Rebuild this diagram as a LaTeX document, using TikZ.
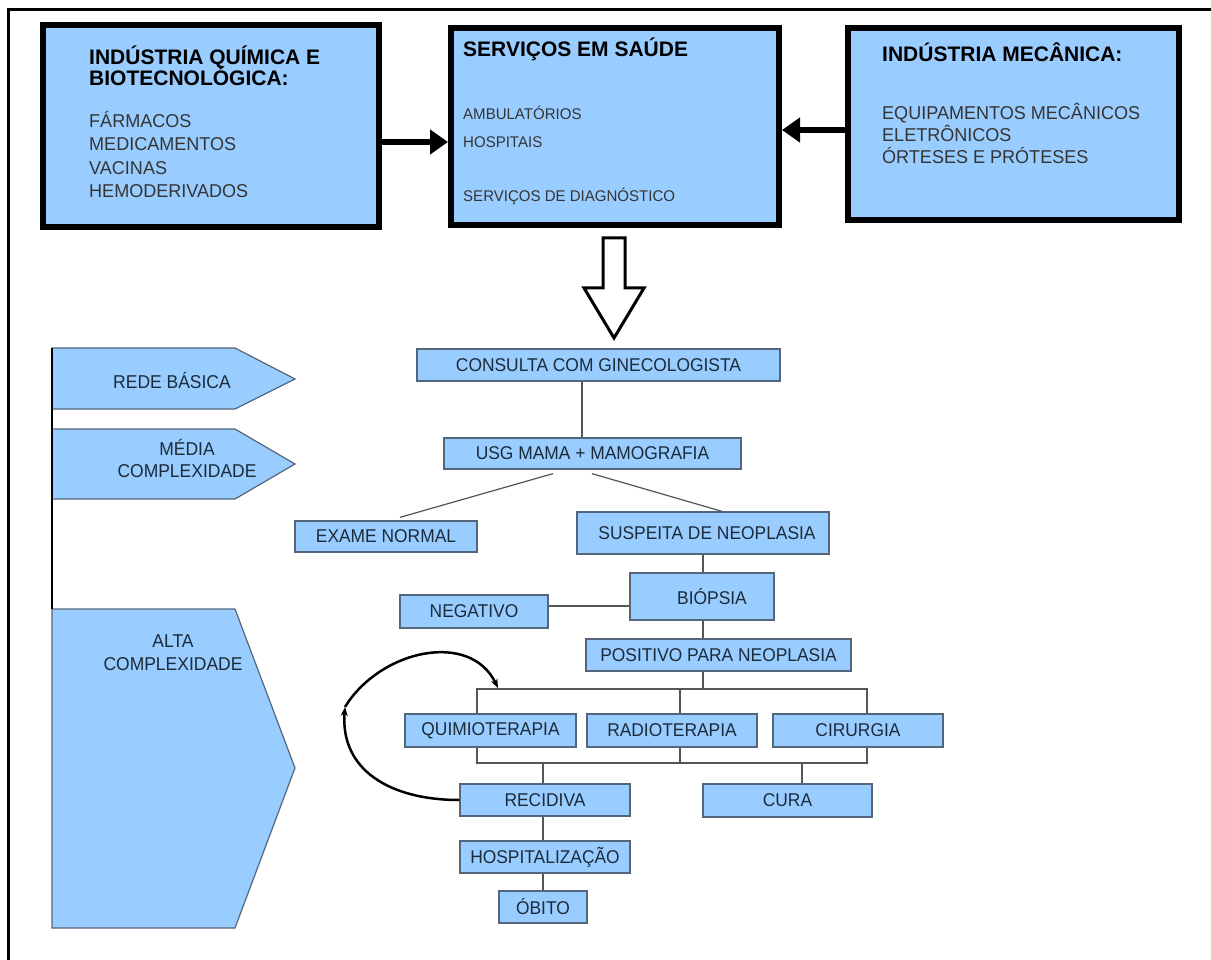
\documentclass[tikz,border=0pt]{standalone}
\usepackage{fontspec}
\setmainfont{Liberation Sans}
\newfontfamily\condfont[FakeStretch=0.94]{Liberation Sans}
\newfontfamily\lightfont[FakeStretch=0.97]{Liberation Sans}
\usetikzlibrary{arrows.meta}
\definecolor{boxblue}{HTML}{99CCFF}
\definecolor{edgec}{HTML}{56667A}
\definecolor{txt}{HTML}{1C2B3A}
\definecolor{ltxt}{HTML}{353535}
\definecolor{connc}{HTML}{555555}
\tikzset{
 flow/.style={draw=edgec, line width=1.3pt, fill=boxblue, text=txt, font=\condfont\fontsize{18.5pt}{20pt}\selectfont, inner sep=0pt, align=center},
 topbox/.style={draw=black, line width=6pt, fill=boxblue, inner sep=0pt},
 hd/.style={anchor=base west, inner sep=0pt, font=\bfseries\fontsize{21pt}{21pt}\selectfont, text=black},
 itA/.style={anchor=base west, inner sep=0pt, font=\lightfont\fontsize{18.6pt}{22pt}\selectfont, text=ltxt},
 itB/.style={anchor=base west, inner sep=0pt, font=\lightfont\fontsize{15.5pt}{18pt}\selectfont, text=ltxt},
 conn/.style={draw=connc, line width=1.2pt},
 pent/.style={draw=edgec, line width=1.2pt, fill=boxblue},
 ptxt/.style={anchor=base, inner sep=0pt, font=\condfont\fontsize{18.6pt}{22pt}\selectfont, text=txt},
 bigarrow/.style={line width=6pt, -{Triangle[length=18pt,width=24pt]}},
 curvearrow/.style={line width=2.5pt, -{Stealth[length=9pt,width=7pt]}},
}
\begin{document}
\begin{tikzpicture}[x=1pt,y=-1pt]
\useasboundingbox (0,0) rectangle (1211,960);
\fill[white] (0,0) rectangle (1211,960);
% frame
\draw[line width=3pt] (8.5,960) -- (8.5,9.5) -- (1211,9.5);

% top boxes
\node[topbox, minimum width=336pt, minimum height=202pt] (chem) at (211,126) {};
\node[topbox, minimum width=328pt, minimum height=197pt] (serv) at (615,126.5) {};
\node[topbox, minimum width=331pt, minimum height=192pt] (mec) at (1013.5,124) {};

\node[hd] (chemA) at (89,65) {INDÚSTRIA QUÍMICA E};
\node[hd] (chemB) at (89,86) {BIOTECNOLÓGICA:};
\node[itA] (chem1) at (89,127.5) {FÁRMACOS};
\node[itA] (chem2) at (89,150.8) {MEDICAMENTOS};
\node[itA] (chem3) at (89,174.1) {VACINAS};
\node[itA] (chem4) at (89,197.4) {HEMODERIVADOS};

\node[hd] (servA) at (463,57) {SERVIÇOS EM SAÚDE};
\node[itB] (serv1) at (463,120) {AMBULATÓRIOS};
\node[itB] (serv2) at (463,148) {HOSPITAIS};
\node[itB] (serv3) at (463,202) {SERVIÇOS DE DIAGNÓSTICO};

\node[hd] (mecA) at (882,62) {INDÚSTRIA MECÂNICA:};
\node[itA] (mec1) at (882,120) {EQUIPAMENTOS MECÂNICOS};
\node[itA] (mec2) at (882,142) {ELETRÔNICOS};
\node[itA] (mec3) at (882,164) {ÓRTESES E PRÓTESES};

\draw[bigarrow] ([yshift=-16pt]chem.east) -- ([yshift=-15.5pt]serv.west);
\draw[bigarrow] ([yshift=-6pt]mec.west) -- ([yshift=-3.5pt]serv.east);

% open down arrow
\draw[line width=3pt, fill=white, line join=miter] (603,238) -- (625,238) -- (625,288) -- (644,288) -- (614,338) -- (584,288) -- (603,288) -- cycle;

% left pentagons
\draw[pent] (52,348) -- (235,348) -- (295,379) -- (235,409) -- (52,409) -- cycle;
\draw[pent] (52,429) -- (235,429) -- (295,464) -- (235,499) -- (52,499) -- cycle;
\draw[pent] (52,609) -- (235,609) -- (295,768) -- (235,928) -- (52,928) -- cycle;
\draw[line width=2.5pt] (52,348) -- (52,609);
\node[ptxt] (rede) at (172,388) {REDE BÁSICA};
\node[ptxt] (media1) at (187,455) {MÉDIA};
\node[ptxt] (media2) at (187,477) {COMPLEXIDADE};
\node[ptxt] (alta1) at (173,647) {ALTA};
\node[ptxt] (alta2) at (173,670) {COMPLEXIDADE};

% flow boxes
\node[flow, minimum width=363pt, minimum height=32pt] (cons) at (598.5,365) {CONSULTA COM GINECOLOGISTA};
\node[flow, minimum width=297pt, minimum height=31pt] (usg) at (592.5,453.5) {USG MAMA + MAMOGRAFIA};
\node[flow, minimum width=182pt, minimum height=31pt] (exame) at (386,536.5) {EXAME NORMAL};
\node[flow, minimum width=252pt, minimum height=42pt] (susp) at (703,533) {\hspace*{8pt}SUSPEITA DE NEOPLASIA};
\node[flow, minimum width=144pt, minimum height=47pt] (biop) at (702,596.5) {\hspace*{20pt}BIÓPSIA};
\node[flow, minimum width=148pt, minimum height=33pt] (neg) at (474,611.5) {NEGATIVO};
\node[flow, minimum width=265pt, minimum height=32pt] (pos) at (718.5,655) {POSITIVO PARA NEOPLASIA};
\node[flow, minimum width=171pt, minimum height=33pt] (quim) at (490.5,730.5) {QUIMIOTERAPIA};
\node[flow, minimum width=170pt, minimum height=33pt] (radio) at (672,730.5) {RADIOTERAPIA};
\node[flow, minimum width=170pt, minimum height=33pt] (cir) at (858,730.5) {CIRURGIA};
\node[flow, minimum width=170pt, minimum height=32pt] (rec) at (545,800) {RECIDIVA};
\node[flow, minimum width=169pt, minimum height=33pt] (cura) at (787.5,800.5) {CURA};
\node[flow, minimum width=170pt, minimum height=32pt] (hosp) at (545,857) {HOSPITALIZAÇÃO};
\node[flow, minimum width=88pt, minimum height=32pt] (obito) at (543,907) {ÓBITO};

% connectors
\coordinate (ub) at (703,689);
\coordinate (lb) at (543,763);
\draw[conn] ([xshift=-16.5pt]cons.south) -- ([xshift=-16.5pt]cons.south |- usg.north);
\draw[conn] ([xshift=-39.5pt,yshift=-4pt]usg.south) -- ([xshift=14pt,yshift=3pt]exame.north);
\draw[conn] ([xshift=-0.5pt,yshift=-4pt]usg.south) -- ([xshift=19pt]susp.north);
\draw[conn] (susp.south) -- (susp.south |- biop.north);
\draw[conn] ([yshift=5.5pt]neg.east) -- ([yshift=5.5pt]neg.east -| biop.west);
\draw[conn] ([xshift=1pt]biop.south) -- ([xshift=1pt]biop.south |- pos.north);
\draw[conn] (pos.south -| ub) -- (ub);
\draw[conn] ([xshift=-13.5pt]quim.north) |- (ub) -| ([xshift=9pt]cir.north);
\draw[conn] ([xshift=8pt]radio.north) -- ([xshift=8pt]radio.north |- ub);
\draw[conn] ([xshift=-13.5pt]quim.south) |- (lb) -| ([xshift=9pt]cir.south);
\draw[conn] ([xshift=8pt]radio.south) -- ([xshift=8pt]radio.south |- lb);
\draw[conn] ([xshift=-2pt]rec.north) -- ([xshift=-2pt]rec.north |- lb);
\draw[conn] ([xshift=14.5pt]cura.north) -- ([xshift=14.5pt]cura.north |- lb);
\draw[conn] ([xshift=-2pt]rec.south) -- ([xshift=-2pt]hosp.north);
\draw[conn] ([xshift=-2pt]hosp.south) -- (obito.north);

% loop arrows
\coordinate (turn) at (345,707);
\coordinate (hit) at (498,688);
\draw[curvearrow] (rec.west) .. controls (390,800) and (340,770) .. (turn);
\draw[curvearrow] (turn) .. controls (380,650) and (470,630) .. (hit);
\end{tikzpicture}
\end{document}
